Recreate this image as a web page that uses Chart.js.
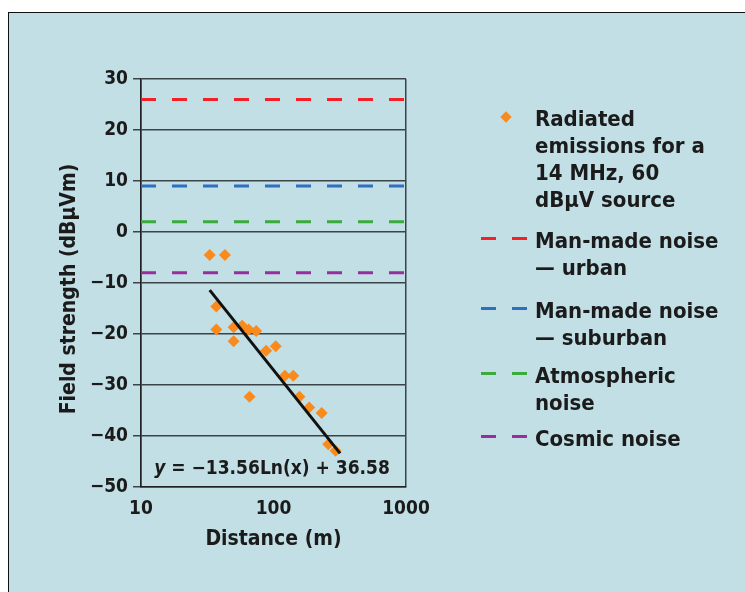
<!DOCTYPE html>
<html>
<head>
<meta charset="utf-8">
<script src="https://cdn.jsdelivr.net/npm/chart.js@4.4.0/dist/chart.umd.min.js"></script>
<style>
  body { margin: 0; background: #fff; }
  #wrap { position: relative; width: 745px; height: 592px; overflow: hidden; }
  #frame { position: absolute; left: 8px; top: 12px; right: 0; bottom: 0; background: #c2dfe6;
           border-left: 1px solid #111; border-top: 1px solid #111; }
  canvas { position: absolute; left: 0; top: 0; }
  #legend { position: absolute; left: 0; top: 0; width: 745px; height: 592px;
            font: bold 22px 'Liberation Sans Narrow', 'DejaVu Sans Condensed', sans-serif;
            color: #1b1b1b; line-height: 27px; }
  .item { position: absolute; left: 535px; white-space: nowrap; }
  .mark { position: absolute; }
</style>
</head>
<body>
<div id="wrap">
  <div id="frame"></div>
  <canvas id="chart" width="745" height="592"></canvas>
  <div id="legend"></div>
</div>
<script>
// Data
const distances = [33, 43, 37, 37, 50, 50, 58, 65, 74, 66, 88, 104, 122, 141, 157, 186, 231, 259, 294];
const fieldStrength = [-4.5, -4.5, -14.6, -19.1, -18.7, -21.4, -18.4, -19.1, -19.4, -32.3, -23.3, -22.4, -28.2, -28.2, -32.3, -34.4, -35.5, -41.6, -42.9];

// fitted trend line as drawn (ends)
const trendX = [33, 318];
const trendY = [-11.4, -43.4];
const trendEquation = ' = \u221213.56Ln(x) + 36.58';

const noiseLevels = [26, 9, 2, -8];
const noiseLabels = ['Man-made noise\n\u2014 urban', 'Man-made noise\n\u2014 suburban', 'Atmospheric\nnoise', 'Cosmic noise'];
const noiseColors = ['#f52027', '#2f6fc2', '#3aab3c', '#9a2d9d'];

const radiatedLabel = 'Radiated\nemissions for a\n14 MHz, 60\ndBµV source';

const xTicks = [10, 100, 1000];
const yMin = -50, yMax = 30, yStep = 10;
const xTitle = 'Distance (m)';
const yTitle = 'Field strength (dBµVm)';

const FONT = "'Liberation Sans Narrow', 'DejaVu Sans Condensed', sans-serif";
const textColor = '#1b1b1b';
const gridColor = '#3a4448';

// equation text inside the plot + rotated y title
const textPlugin = {
  id: 'texts',
  afterDatasetsDraw(chart) {
    const ctx = chart.ctx;
    ctx.save();
    ctx.fillStyle = textColor;
    ctx.textBaseline = 'middle';
    ctx.font = 'italic bold 19px ' + FONT;
    const wy = ctx.measureText('y').width;
    ctx.font = 'bold 19px ' + FONT;
    const wr = ctx.measureText(trendEquation).width;
    const x0 = 272 - (wy + wr) / 2;
    const y0 = 469;
    ctx.font = 'italic bold 19px ' + FONT;
    ctx.fillText('y', x0, y0);
    ctx.font = 'bold 19px ' + FONT;
    ctx.fillText(trendEquation, x0 + wy, y0);

    ctx.translate(70, 289);
    ctx.rotate(-Math.PI / 2);
    ctx.textAlign = 'center';
    ctx.font = 'bold 21px ' + FONT;
    ctx.fillText(yTitle, 0, 0);
    ctx.restore();
  }
};

const ctx = document.getElementById('chart').getContext('2d');
const chart = new Chart(ctx, {
  type: 'scatter',
  data: {
    datasets: [
      {
        label: radiatedLabel,
        data: distances.map((d, i) => ({ x: d, y: fieldStrength[i] })),
        backgroundColor: '#f98a1b',
        borderWidth: 0,
        pointStyle: 'rectRot',
        pointRadius: 6,
        order: 1
      },
      ...noiseLevels.map((v, i) => ({
        type: 'line',
        label: noiseLabels[i],
        data: [{ x: xTicks[0], y: v }, { x: xTicks[xTicks.length - 1], y: v }],
        borderColor: noiseColors[i],
        borderWidth: 3,
        borderDash: [15, 16],
        pointRadius: 0,
        order: 2
      })),
      {
        type: 'line',
        label: 'trend',
        data: trendX.map((x, i) => ({ x: x, y: trendY[i] })),
        borderColor: '#111',
        borderWidth: 3,
        pointRadius: 0,
        order: 0
      }
    ]
  },
  options: {
    responsive: false,
    animation: false,
    layout: { padding: { left: 0, top: 79, right: 339, bottom: 0 } },
    plugins: {
      legend: { display: false },
      tooltip: { enabled: false }
    },
    scales: {
      x: {
        type: 'logarithmic',
        min: xTicks[0],
        max: xTicks[xTicks.length - 1],
        afterBuildTicks: s => { s.ticks = xTicks.map(v => ({ value: v })); },
        afterFit: s => { s.height = 105; },
        grid: {
          drawTicks: false,
          lineWidth: 1.5,
          color: c => (c.tick && c.tick.value === 100) ? 'rgba(0,0,0,0)' : gridColor
        },
        border: { color: '#222', width: 1.5 },
        ticks: {
          padding: 11,
          color: textColor,
          autoSkip: false,
          maxRotation: 0,
          font: { family: FONT, size: 19, weight: 'bold' },
          callback: v => String(v)
        },
        title: {
          display: true,
          text: xTitle,
          color: textColor,
          font: { family: FONT, size: 21, weight: 'bold' },
          padding: { top: 0, bottom: 39.4 }
        }
      },
      y: {
        min: yMin,
        max: yMax,
        afterFit: s => { s.width = 141; },
        grid: { color: gridColor, lineWidth: 1.5, tickLength: 8 },
        border: { color: '#222', width: 1.5 },
        ticks: {
          stepSize: yStep,
          padding: 5,
          color: textColor,
          font: { family: FONT, size: 19, weight: 'bold' },
          callback: v => String(v).replace('-', '\u2212')
        }
      }
    }
  },
  plugins: [textPlugin]
});

// HTML legend built from the datasets
const legendTops = [105, 227, 297, 362, 425];
const legend = document.getElementById('legend');
chart.data.datasets.filter(ds => ds.label !== 'trend').forEach((ds, i) => {
  const top = legendTops[i];
  const item = document.createElement('div');
  item.className = 'item';
  item.style.top = top + 'px';
  item.innerHTML = ds.label.split('\n').join('<br>');
  legend.appendChild(item);
  if (ds.pointStyle === 'rectRot') {
    const d = document.createElement('div');
    d.className = 'mark';
    d.style.cssText = `left:502px;top:${top + 8}px;width:8px;height:8px;background:${ds.backgroundColor};transform:rotate(45deg);`;
    legend.appendChild(d);
  } else {
    [481, 512].forEach(x => {
      const d = document.createElement('div');
      d.className = 'mark';
      d.style.cssText = `left:${x}px;top:${top + 10}px;width:15px;height:3px;background:${ds.borderColor};`;
      legend.appendChild(d);
    });
  }
});
</script>
</body>
</html>
